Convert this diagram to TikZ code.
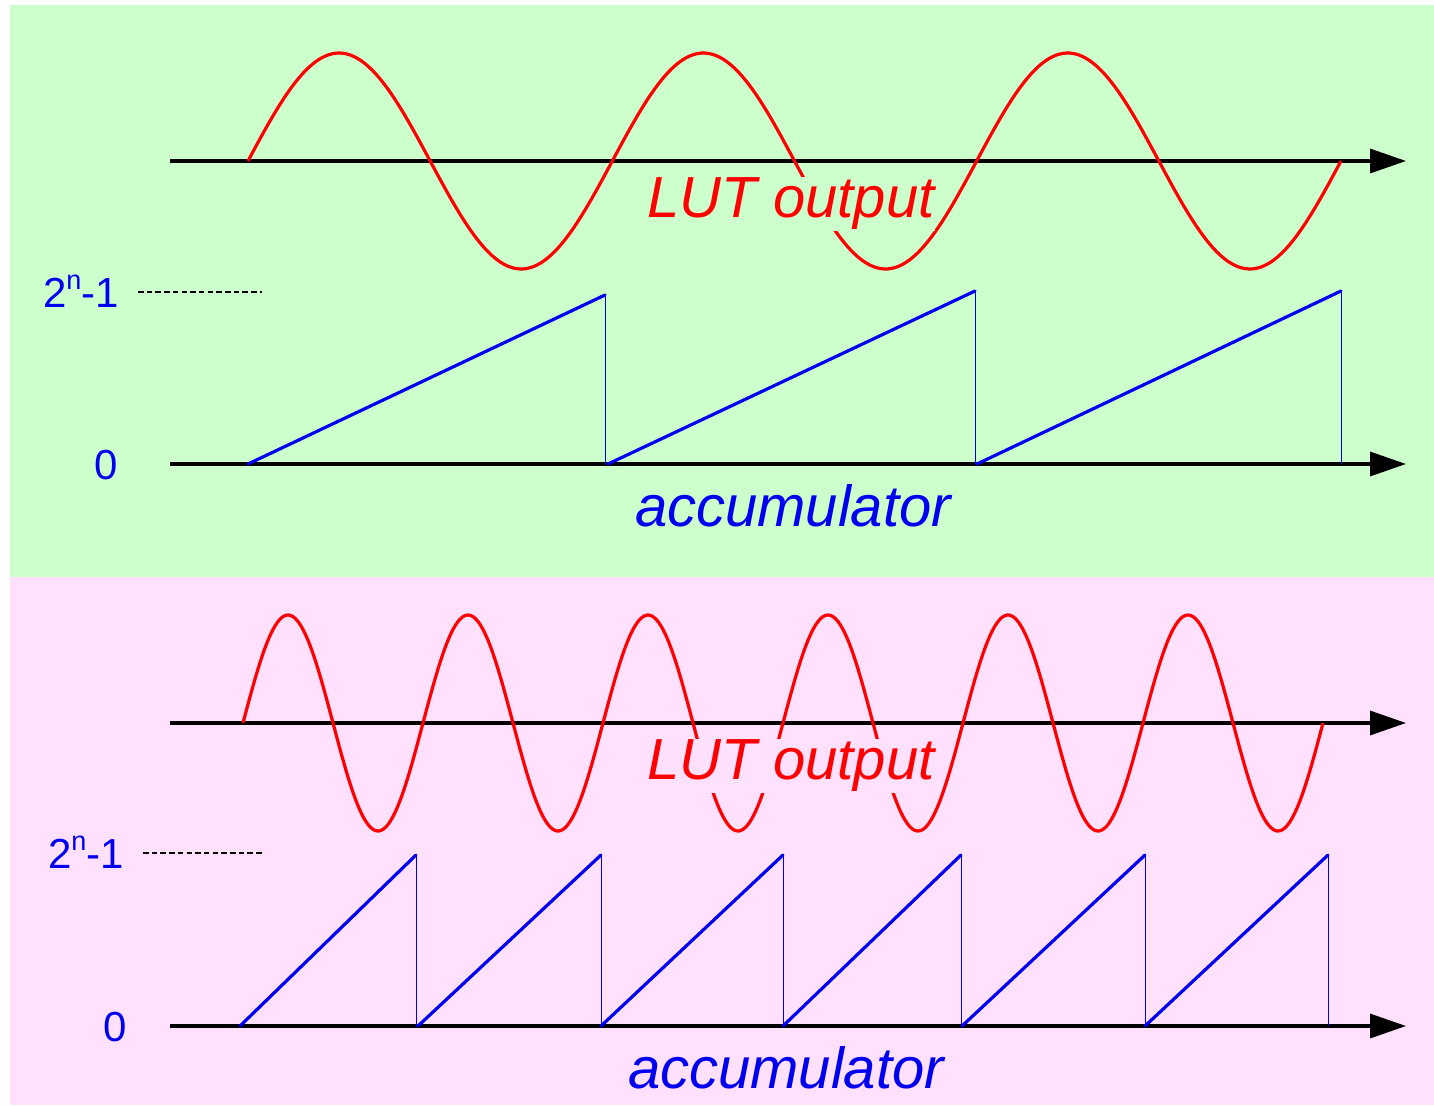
\documentclass[tikz,border=0pt]{standalone}
\usepackage{fontspec}
\setmainfont{Liberation Sans}
\usetikzlibrary{arrows.meta}
\definecolor{bggreen}{RGB}{204,255,204}
\definecolor{bgpink}{RGB}{255,224,253}
\definecolor{lutred}{RGB}{255,0,0}
\definecolor{accblue}{RGB}{0,0,240}
\newcommand{\twon}{2\raisebox{0.42em}{\fontsize{27}{27}\selectfont n}-1}
\begin{document}
\begin{tikzpicture}[x=1pt,y=-1pt,
  axis/.style={line width=3.4pt,-{Triangle[length=36pt,width=24pt]}},
  sinecurve/.style={lutred,line width=3.2pt},
  ramp/.style={accblue,line width=3.2pt,line cap=round},
  drop/.style={accblue,line width=1pt},
  level/.style={line width=1.4pt,dash pattern=on 5.5pt off 3.2pt},
  biglabel/.style={font=\fontsize{58}{60}\selectfont\itshape,inner sep=1pt},
  ticklabel/.style={accblue,font=\fontsize{42}{46}\selectfont,inner sep=0pt}]
\useasboundingbox (0,0) rectangle (1434,1105);
% panels
\fill[bggreen] (10,5) rectangle (1434,577);
\fill[bgpink] (10,577) rectangle (1434,1105);

% ===== top panel =====
\coordinate (a1s) at (170,161); \coordinate (a1e) at (1406,161);
\coordinate (a2s) at (170,464); \coordinate (a2e) at (1406,464);
\draw[axis] (a1s) -- (a1e);
\draw[sinecurve] plot[domain=248:1341,samples=300] (\x,{161-108*sin((\x-248)/364.33*360)});
\node[biglabel,lutred,fill=bggreen] (lut1) at (791,204) {LUT output};
\draw[axis] (a2s) -- (a2e);
\coordinate (r1a) at (248,464); \coordinate (r1b) at (605,295); \coordinate (r1c) at (605,464);
\coordinate (r2a) at (608,464); \coordinate (r2b) at (975,291); \coordinate (r2c) at (975,464);
\coordinate (r3a) at (977,464); \coordinate (r3b) at (1341,291); \coordinate (r3c) at (1341,464);
\draw[ramp] (r1a) -- (r1b); \draw[drop] (r1b) -- (r1c);
\draw[ramp] (r2a) -- (r2b); \draw[drop] (r2b) -- (r2c);
\draw[ramp] (r3a) -- (r3b); \draw[drop] (r3b) -- (r3c);
\coordinate (d1a) at (138,292); \coordinate (d1b) at (262,292);
\draw[level] (d1a) -- (d1b);
\node[ticklabel,anchor=east] (top1) at (119,291) {\twon};
\node[ticklabel] (zero1) at (106,465) {0};
\node[biglabel,accblue] (acc1) at (793,506) {accumulator};

% ===== bottom panel =====
\coordinate (b1s) at (170,723); \coordinate (b1e) at (1406,723);
\coordinate (b2s) at (170,1026); \coordinate (b2e) at (1406,1026);
\draw[axis] (b1s) -- (b1e);
\draw[sinecurve] plot[domain=243:1323,samples=500] (\x,{723-108*sin((\x-243)/180*360)});
\node[biglabel,lutred,fill=bgpink] (lut2) at (791,766) {LUT output};
\draw[axis] (b2s) -- (b2e);
\foreach \xa/\xb [count=\i] in {240/416,418/601,601/783,783/961,962/1145,1145/1328}{
  \coordinate (s\i a) at (\xa,1026);
  \coordinate (s\i b) at (\xb,855);
  \coordinate (s\i c) at (\xb,1026);
  \draw[ramp] (s\i a) -- (s\i b);
  \draw[drop] (s\i b) -- (s\i c);
}
\coordinate (d2a) at (143,853); \coordinate (d2b) at (262,853);
\draw[level] (d2a) -- (d2b);
\node[ticklabel,anchor=east] (top2) at (124,852) {\twon};
\node[ticklabel] (zero2) at (115,1027) {0};
\node[biglabel,accblue] (acc2) at (786,1068) {accumulator};
\end{tikzpicture}
\end{document}
